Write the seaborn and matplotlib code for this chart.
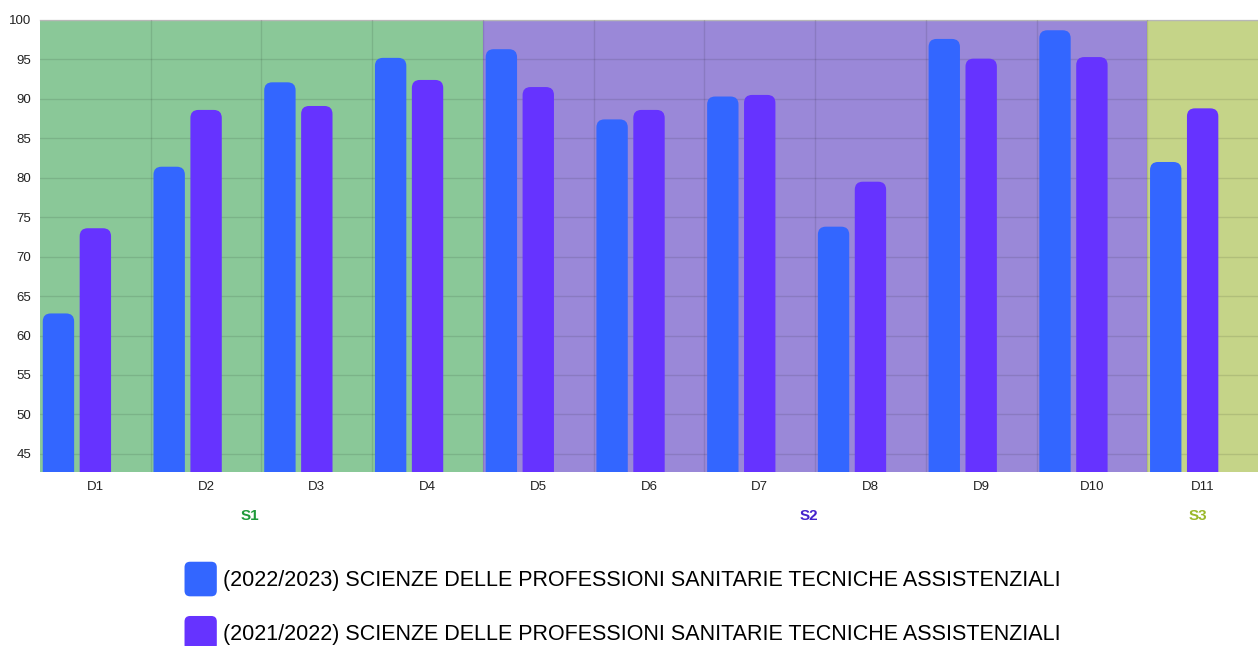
import numpy as np
import pandas as pd
import matplotlib.pyplot as plt
import matplotlib.patches as mpatches
import matplotlib.transforms as mtransforms
from matplotlib.patches import FancyBboxPatch
from matplotlib.legend_handler import HandlerPatch
import seaborn as sns

categories = ["D1", "D2", "D3", "D4", "D5", "D6", "D7", "D8", "D9", "D10", "D11"]
series_names = [
    "(2022/2023) SCIENZE DELLE PROFESSIONI SANITARIE TECNICHE ASSISTENZIALI",
    "(2021/2022) SCIENZE DELLE PROFESSIONI SANITARIE TECNICHE ASSISTENZIALI",
]
values_2223 = [62.8, 81.4, 92.1, 95.2, 96.3, 87.4, 90.3, 73.8, 97.6, 98.7, 82.0]
values_2122 = [73.6, 88.6, 89.1, 92.4, 91.5, 88.6, 90.5, 79.5, 95.1, 95.3, 88.8]
groups = ["S1", "S2", "S3"]
group_sizes = [4, 6, 1]

bar_colors = ["#3366ff", "#6633ff"]
span_colors = ["#8ac898", "#9a88d8", "#c5d488"]
group_text_colors = ["#1f9a3a", "#4422cc", "#9ab82a"]

df = pd.DataFrame({
    "cat": categories * 2,
    "serie": [series_names[0]] * len(categories) + [series_names[1]] * len(categories),
    "val": values_2223 + values_2122,
})

sns.set_style("white")
plt.rcParams["font.family"] = ["Liberation Sans", "DejaVu Sans"]

fig = plt.figure(figsize=(12.58, 6.46), dpi=100)
ax = fig.add_axes([40 / 1258, 174 / 646, 1218 / 1258, 452 / 646])

# shaded sections behind the bars
start = -0.5
group_centers = []
for g, n, c in zip(groups, group_sizes, span_colors):
    ax.axvspan(start, start + n, color=c, zorder=0, lw=0)
    group_centers.append(start + n / 2)
    start += n

# third (empty) hue level keeps the bars on the left of each slot, like the original
sns.barplot(data=df, x="cat", y="val", hue="serie", hue_order=series_names + ["_empty"],
            palette=bar_colors + ["#ffffff"], width=1.0, gap=0.15, errorbar=None,
            saturation=1, legend=False, ax=ax)

ax.set_xlim(-0.5, len(categories) - 0.5)
ax.set_ylim(42.7, 100)

# swap the rectangles for bars with rounded tops
px_x = 1218 / len(categories)
px_y = 452 / (100 - 42.7)
for cont in ax.containers:
    for r in cont:
        h = r.get_height()
        if np.isnan(h):
            r.remove()
            continue
        fb = FancyBboxPatch((r.get_x(), r.get_y()), r.get_width(), h,
                            boxstyle="round,pad=0,rounding_size=%f" % (8 / px_x),
                            mutation_aspect=px_x / px_y,
                            fc=r.get_facecolor(), ec="none", zorder=3)
        ax.add_patch(fb)
        r.remove()

ax.set_yticks(range(45, 101, 5))
ax.set_xticks(np.arange(0.5, len(categories) - 0.5, 1), minor=True)
ax.tick_params(axis="both", which="both", length=0, labelsize=9.5, labelcolor="#222222", pad=6.5)
ax.set_axisbelow(False)
ax.yaxis.grid(True, color="black", alpha=0.1, lw=1)
ax.xaxis.grid(True, which="minor", color="black", alpha=0.1, lw=1)
ax.xaxis.grid(False, which="major")
ax.set_xlabel("")
ax.set_ylabel("")

for s in ["left", "right", "bottom"]:
    ax.spines[s].set_visible(False)
ax.spines["top"].set_color("#cccccc")
ax.spines["top"].set_linewidth(1)

trans = mtransforms.blended_transform_factory(ax.transData, ax.transAxes)
nudges = [-0.1, -0.06, -0.04]
for g, xc, dx, c in zip(groups, group_centers, nudges, group_text_colors):
    ax.text(xc + dx, -0.097, g, transform=trans, ha="center", va="center",
            fontsize=11, fontweight="bold", color=c)


class RoundHandler(HandlerPatch):
    def create_artists(self, legend, orig, xdescent, ydescent, width, height, fontsize, trans):
        p = FancyBboxPatch((-xdescent, -ydescent - 3), width, height + 6,
                           boxstyle="round,pad=0,rounding_size=4",
                           fc=orig.get_facecolor(), ec="none", transform=trans)
        return [p]


handles = [mpatches.Patch(color=c) for c in bar_colors]
fig.legend(handles, series_names, loc="upper center", bbox_to_anchor=(0.495, 0.124),
           frameon=False, fontsize=15.5, handlelength=1.5, handleheight=1.5,
           labelspacing=1.3, handletextpad=0.3, borderpad=0, borderaxespad=0,
           labelcolor="black", handler_map={mpatches.Patch: RoundHandler()})

fig.savefig("out.png", dpi=100)
